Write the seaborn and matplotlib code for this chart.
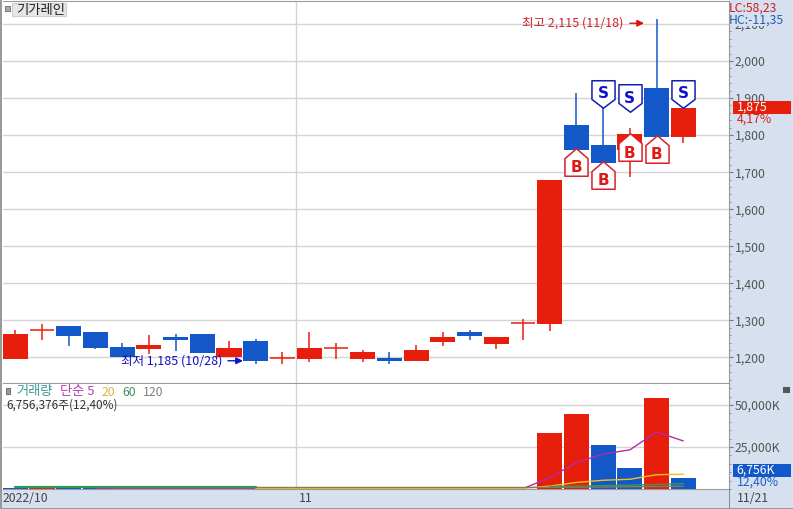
import numpy as np
import pandas as pd
import matplotlib
matplotlib.use("Agg")
import matplotlib.pyplot as plt
from matplotlib.path import Path
from matplotlib.patches import Rectangle
from matplotlib.ticker import FuncFormatter, MultipleLocator
import seaborn as sns

sns.set_style("white")
plt.rcParams["font.family"] = ["Noto Sans CJK KR", "DejaVu Sans"]

W, H = 793, 509
RED, BLUE = "#E81E0C", "#1258C8"
PANEL = "#D6E0EE"
GRID = "#D4D4D4"
EDGE = "#9A9A9A"

opens = [1197,1274,1285,1269,1228,1223,1255,1263,1202,1244,1198,1197,1225,1197,1199,1191,1242,1269,1255,1292,1290,1827,1773,1760,1927,1796]
closes = [1263,1274,1259,1226,1202,1234,1247,1212,1226,1191,1198,1226,1225,1215,1191,1220,1255,1258,1236,1292,1680,1760,1726,1803,1796,1873]
highs = [1274,1290,1285,1269,1240,1261,1263,1263,1244,1249,1215,1269,1239,1220,1215,1234,1269,1274,1255,1304,1680,1913,1872,1819,2113,1873]
lows = [1197,1247,1232,1224,1202,1209,1218,1212,1202,1183,1182,1189,1196,1189,1182,1191,1232,1247,1223,1247,1271,1760,1726,1688,1796,1778]
up_flags = [1,1,0,0,0,1,0,0,1,0,1,1,1,1,0,1,1,0,1,1,1,0,0,1,0,1]

volumes = [700,700,600,650,150,140,130,150,140,150,60,70,60,60,50,60,70,60,60,80,33300,44600,26200,12500,54200,6756]
vol_up_flags = [0,1,0,0,1,0,1,0,1,0,1,0,1,0,1,0,1,0,1,1,1,1,0,0,1,0]
ma5_i = list(range(3, 26))
ma5 = [150,150,150,150,150,150,150,150,150,150,150,150,150,150,150,150,200,6800,15700,20800,23300,34000,28600]
ma20_i = list(range(9, 26))
ma20 = [400,400,400,400,400,400,400,400,400,400,400,1700,3900,5200,5800,8500,8800]
ma60_a_i = list(range(0, 10))
ma60_a = [1400,1400,1400,1400,1400,1400,1400,1400,1400,1400]
ma60_b_i = list(range(20, 26))
ma60_b = [1500,1700,2000,2300,2700,3200]
ma120_i = list(range(9, 26))
ma120 = [900,900,900,900,900,900,900,900,900,900,900,1000,1100,1200,1350,1500,1600]

buy_i = [21, 22, 23, 24]
buy_p = [1728, 1693, 1767, 1763]
sell_i = [22, 23, 25]
sell_p = [1912, 1900, 1912]

price_ticks = [1200,1300,1400,1500,1600,1700,1800,1900,2000,2100]
vol_ticks = [25000, 50000]

fig = plt.figure(figsize=(W/100, H/100), dpi=100, facecolor="white")

def axes_px(x0, y0, x1, y1):
    return fig.add_axes([x0/W, 1-y1/H, (x1-x0)/W, (y1-y0)/H])

def px_text(x, y, s, **kw):
    kw.setdefault("va", "center")
    kw.setdefault("ha", "left")
    kw.setdefault("fontsize", 8.5)
    return fig.text(x/W, 1-y/H, s, **kw)

def box(x0, y0, x1, y1, fc, ec="none", z=8, lw=0.8):
    fig.add_artist(Rectangle((x0/W, 1-y1/H), (x1-x0)/W, (y1-y0)/H, transform=fig.transFigure, fc=fc, ec=ec, lw=lw, zorder=z))

# right and bottom bands sit behind the axes
box(729, 0, 793, 509, PANEL, z=-2)
box(0, 489, 793, 509, PANEL, z=-2)

XL = (-0.46, 26.71)
ax = axes_px(3, 1, 729, 383)
ax.set_xlim(*XL)
ax.set_ylim(1131, 2162)
ax.set_facecolor("white")

x = np.arange(len(opens))
colors = [RED if u else BLUE for u in up_flags]
ax.vlines(x, lows, highs, colors=colors, lw=1.1, zorder=3)
for i in x:
    o, c = opens[i], closes[i]
    if o == c:
        ax.hlines(o, i-0.46, i+0.46, colors=colors[i], lw=1.1, zorder=3)
    else:
        ax.bar(i, abs(c-o), bottom=min(o, c), width=0.94, color=colors[i], lw=0, zorder=3)

house = Path([(0,1),(0.84,0.28),(0.84,-1),(-0.84,-1),(-0.84,0.28),(0,1)], closed=True)
shield = Path([(0,-1),(0.84,-0.36),(0.84,1),(-0.84,1),(-0.84,-0.36),(0,-1)], closed=True)
sns.scatterplot(x=buy_i, y=buy_p, ax=ax, marker=house, s=392, color="white", edgecolor="#D8202A", linewidth=1.1, zorder=5, legend=False)
sns.scatterplot(x=sell_i, y=sell_p, ax=ax, marker=shield, s=392, color="white", edgecolor="#1020B0", linewidth=1.1, zorder=5, legend=False)
for i, p in zip(buy_i, buy_p):
    ax.text(i, p-16, "B", color="#E01818", fontsize=11, fontweight="bold", family="DejaVu Sans", ha="center", va="center", zorder=6)
for i, p in zip(sell_i, sell_p):
    ax.text(i, p, "S", color="#1010D0", fontsize=11, fontweight="bold", family="DejaVu Sans", ha="center", va="center", zorder=6)

ax.set_xlim(*XL)
ax.set_ylim(1131, 2162)
ax.set_xlabel("")
ax.set_ylabel("")
ax.set_yticks(price_ticks)
ax.grid(axis="y", color=GRID, lw=1)
ax.set_axisbelow(True)
ax.axvline(10.5, color=GRID, lw=1, zorder=1)
ax.set_xticks([])
ax.yaxis.tick_right()
ax.yaxis.set_major_formatter(FuncFormatter(lambda v, _: f"{int(v):,}"))
ax.yaxis.set_minor_locator(MultipleLocator(20))
ax.tick_params(axis="y", which="major", length=3, width=0.8, color="#777", labelcolor="#555", labelsize=8.8, pad=1, right=True)
ax.tick_params(axis="y", which="minor", length=1.5, width=0.7, color="#888", right=True)
for s in ax.spines.values():
    s.set_visible(False)
for name in ("right", "bottom", "top"):
    ax.spines[name].set_visible(True)
    ax.spines[name].set_color(EDGE)

hi_y, lo_y = 2102, 1191
ax.text(22.74, hi_y, "최고 2,115 (11/18)", color="#D0202A", fontsize=9, ha="right", va="center", zorder=7)
ax.annotate("", xy=(23.53, hi_y), xytext=(23.0, hi_y), zorder=7,
            arrowprops=dict(arrowstyle="-|>", color="#E01010", lw=1, shrinkA=0, shrinkB=0, mutation_scale=10))
ax.text(7.74, lo_y, "최저 1,185 (10/28)", color="#1010C0", fontsize=9, ha="right", va="center", zorder=7)
ax.annotate("", xy=(8.52, lo_y), xytext=(7.96, lo_y), zorder=7,
            arrowprops=dict(arrowstyle="-|>", color="#1010D0", lw=1, shrinkA=0, shrinkB=0, mutation_scale=10))

# volume panel
ax2 = axes_px(3, 384, 729, 489)
vol = pd.DataFrame({"i": x, "v": volumes, "c": ["r" if u else "b" for u in vol_up_flags]})
sns.barplot(data=vol, x="i", y="v", hue="c", palette={"r": RED, "b": BLUE}, dodge=False, native_scale=True,
            width=0.94, ax=ax2, legend=False, zorder=3, linewidth=0, saturation=1)
sns.lineplot(x=ma5_i, y=ma5, color="#B82AA8", lw=1, ax=ax2, zorder=4, legend=False)
sns.lineplot(x=ma20_i, y=ma20, color="#EFC21A", lw=1, ax=ax2, zorder=5, legend=False)
sns.lineplot(x=ma120_i, y=ma120, color="#8A7A5A", lw=1, ax=ax2, zorder=5, legend=False)
sns.lineplot(x=ma60_a_i, y=ma60_a, color="#2E9A5A", lw=1.6, ax=ax2, zorder=6, legend=False)
sns.lineplot(x=ma60_b_i, y=ma60_b, color="#2E9A5A", lw=1, ax=ax2, zorder=6, legend=False)
ax2.set_xlim(*XL)
ax2.set_ylim(0, 62500)
ax2.set_xticks([])
ax2.set_xlabel("")
ax2.set_ylabel("")
ax2.set_yticks(vol_ticks)
ax2.grid(axis="y", color=GRID, lw=1)
ax2.set_axisbelow(True)
ax2.axvline(10.5, color=GRID, lw=1, zorder=1)
ax2.yaxis.tick_right()
ax2.yaxis.set_major_formatter(FuncFormatter(lambda v, _: f"{int(v):,}K"))
ax2.yaxis.set_minor_locator(MultipleLocator(5000))
ax2.tick_params(axis="y", which="major", length=3, width=0.8, color="#777", labelcolor="#555", labelsize=8.8, pad=1, right=True)
ax2.tick_params(axis="y", which="minor", length=1.5, width=0.7, color="#888", right=True)
for s in ax2.spines.values():
    s.set_visible(False)
for name in ("right", "bottom"):
    ax2.spines[name].set_visible(True)
    ax2.spines[name].set_color(EDGE)

# frame pieces, tags and labels
box(0, 0, 2, 509, "#9A9A9A")
box(0, 507.5, 793, 509, "#9A9A9A")
box(729, 489, 730, 509, "#8A8A8A")
box(730, 0, 793, 26, PANEL)
box(733, 101, 791, 114, RED)
box(733, 464, 791, 477, BLUE)
box(12, 3, 66, 16, "#E6E6E6", ec="#CFCFCF")
box(5, 6, 10, 11, "#AAAAAA", ec="#808080")
box(6, 388, 10, 394, "#999999", ec="#777777")
box(783, 387, 790, 393, "#555555")

T = dict(zorder=10)
px_text(16, 10, "기가레인", color="#222", fontsize=9.6, **T)
px_text(729, 8, "LC:58,23", color="#D02020", fontsize=8.8, **T)
px_text(729, 20, "HC:-11,35", color="#2060B0", fontsize=8.8, **T)
px_text(737, 107.5, "1,875", color="white", fontsize=8.8, **T)
px_text(737, 119, "4,17%", color="#D82020", fontsize=8.8, **T)
px_text(736, 470.5, "6,756K", color="white", fontsize=8.8, **T)
px_text(737, 482, "12,40%", color="#2060C0", fontsize=8.8, **T)
px_text(16, 392, "거래량", color="#3A9A9A", fontsize=9.5, **T)
px_text(60, 392, "단순 5", color="#B040B0", fontsize=9.5, **T)
px_text(102, 392, "20", color="#E0B040", fontsize=8.8, **T)
px_text(122, 392, "60", color="#3A9060", fontsize=8.8, **T)
px_text(143, 392, "120", color="#808080", fontsize=8.8, **T)
px_text(6, 405, "6,756,376주(12,40%)", color="#333", **T)
px_text(3, 498, "2022/10", color="#444", fontsize=8.8, **T)
px_text(299, 498, "11", color="#444", fontsize=8.8, **T)
px_text(737, 498, "11/21", color="#444", fontsize=8.8, **T)

fig.savefig("out.png", dpi=100)
